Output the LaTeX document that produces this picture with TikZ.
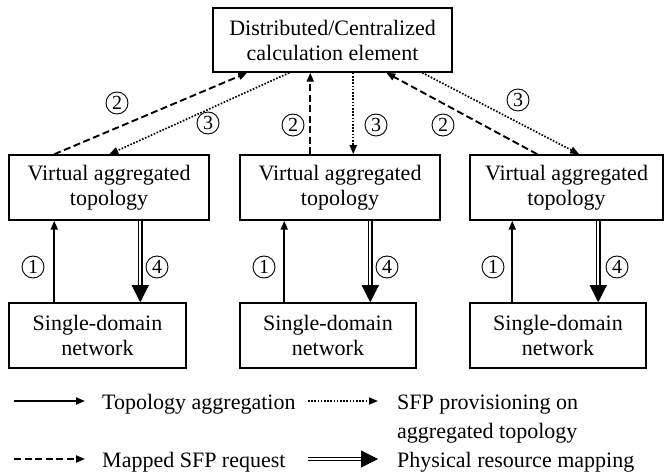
\documentclass[tikz,border=0pt]{standalone}
\usepackage{fontspec}
\setmainfont{Liberation Serif}
\usetikzlibrary{arrows.meta}
\tikzset{
  box/.style={draw,line width=1.5pt,align=center,inner sep=0pt,
    font=\fontsize{22}{25}\selectfont},
  num/.style={circle,draw,line width=0.9pt,inner sep=0pt,minimum size=22pt,
    font=\fontsize{20}{20}\selectfont},
  legtext/.style={anchor=base west,align=left,inner sep=0pt,
    font=\fontsize{22}{29}\selectfont},
  aggr/.style={line width=1.9pt,-{Triangle[width=7pt,length=9pt]}},
  mapreq/.style={line width=1.9pt,dash pattern=on 7pt off 3.5pt,
    -{Triangle[width=7pt,length=9pt]}},
  prov/.style={line width=1.7pt,dash pattern=on 1.6pt off 1.6pt,
    -{Triangle[width=7pt,length=9pt]}},
  physmap/.style={double,double distance=2.4pt,line width=1.1pt,
    -{Triangle[width=17pt,length=17pt]}}
}

\begin{document}
\begin{tikzpicture}[x=1pt,y=-1pt]
  \useasboundingbox (0,0) rectangle (665,476);

  % calculation element and the three domains
  \node[box,minimum width=239pt,minimum height=64pt] (calc) at (332.5,40)
       {Distributed/Centralized\\calculation element};
  \node[box,minimum width=200pt,minimum height=65pt] (vat1) at (109,187.5)
       {Virtual aggregated\\topology};
  \node[box,minimum width=200pt,minimum height=65pt] (vat2) at (340,187.5)
       {Virtual aggregated\\topology};
  \node[box,minimum width=193pt,minimum height=65pt] (vat3) at (566.5,187.5)
       {Virtual aggregated\\topology};
  \node[box,minimum width=177pt,minimum height=65pt] (sdn1) at (97.5,335.5)
       {Single-domain\\network};
  \node[box,minimum width=176pt,minimum height=65pt] (sdn2) at (328,335.5)
       {Single-domain\\network};
  \node[box,minimum width=176pt,minimum height=65pt] (sdn3) at (558,335.5)
       {Single-domain\\network};

  % aggregation up, resource mapping down
  \draw[aggr] ([xshift=46pt]sdn1.north west) -- ([xshift=46pt]vat1.south west);
  \draw[aggr] ([xshift=45pt]sdn2.north west) -- ([xshift=45pt]vat2.south west);
  \draw[aggr] ([xshift=43pt]sdn3.north west) -- ([xshift=43pt]vat3.south west);
  \draw[physmap] ([xshift=132pt]vat1.south west) -- ([xshift=132pt]sdn1.north west);
  \draw[physmap] ([xshift=131pt]vat2.south west) -- ([xshift=131pt]sdn2.north west);
  \draw[physmap] ([xshift=129pt]vat3.south west) -- ([xshift=129pt]sdn3.north west);

  % requests up, provisioning down
  \draw[mapreq] ([xshift=46pt]vat1.north west) -- ([xshift=35pt]calc.south west);
  \draw[prov] ([xshift=77pt]calc.south west) -- ([xshift=101pt]vat1.north west);
  \draw[mapreq] ([xshift=71pt]vat2.north west) -- ([xshift=98pt]calc.south west);
  \draw[prov] ([xshift=141pt]calc.south west) -- ([xshift=114pt]vat2.north west);
  \draw[mapreq] ([xshift=68pt]vat3.north west) -- ([xshift=174pt]calc.south west);
  \draw[prov] ([xshift=210pt]calc.south west) -- ([xshift=110pt]vat3.north west);

  % step numbers
  \node[num] (r1) at (117,103) {2};
  \node[num] (p1) at (208,123) {3};
  \node[num] (r2) at (293,125) {2};
  \node[num] (p2) at (376,125) {3};
  \node[num] (r3) at (443,125) {2};
  \node[num] (p3) at (518,100) {3};
  \node[num] (a1) at (33,267) {1};
  \node[num] (m1) at (157,267) {4};
  \node[num] (a2) at (264,267) {1};
  \node[num] (m2) at (387,267) {4};
  \node[num] (a3) at (493,267) {1};
  \node[num] (m3) at (617,267) {4};

  % legend
  \node[legtext] (kagg) at (102,409) {Topology aggregation};
  \node[legtext] (kprov) at (397,438) {SFP provisioning on\\aggregated topology};
  \node[legtext] (kreq) at (102,467) {Mapped SFP request};
  \node[legtext] (kphys) at (397,467) {Physical resource mapping};
  \coordinate (s1) at (14,401);
  \coordinate (s2) at (308,401);
  \coordinate (s3) at (14,459);
  \coordinate (s4) at (308,459);
  \draw[aggr] (s1) -- ++(71,0);
  \draw[prov] (s2) -- ++(70,0);
  \draw[mapreq] (s3) -- ++(71,0);
  \draw[physmap] (s4) -- ++(70,0);
\end{tikzpicture}
\end{document}
